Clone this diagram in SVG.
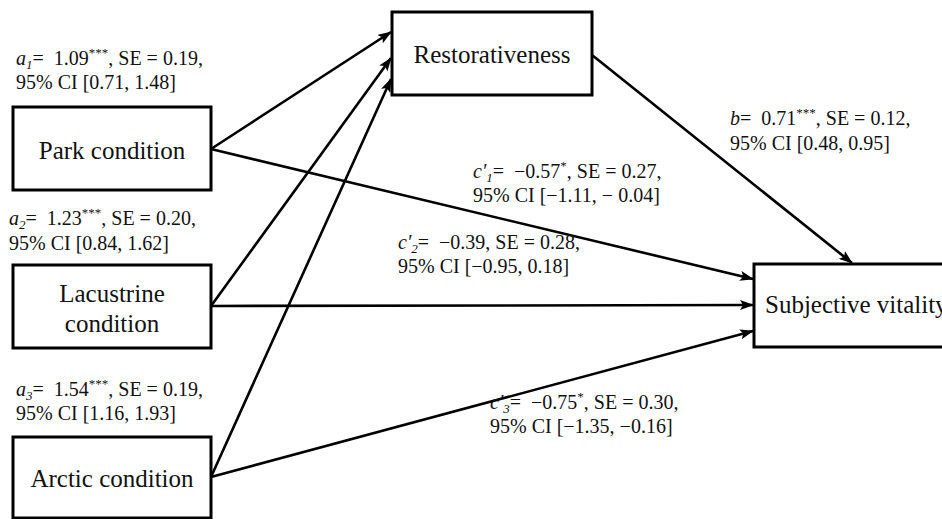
<svg xmlns="http://www.w3.org/2000/svg" width="942" height="519" viewBox="0 0 942 519">
<style>
.box{fill:#fff;stroke:#000;stroke-width:3}
.node{font-family:"Liberation Serif","Times New Roman",serif;font-size:25px;fill:#111;text-anchor:middle}
.lab{font-family:"Liberation Serif","Times New Roman",serif;font-size:20px;fill:#111;white-space:pre}
.it{font-style:italic}
.sm{font-size:13px}
.con{stroke:#000;stroke-width:2.6;fill:none;marker-end:url(#ah)}
</style>
<defs>
<marker id="ah" markerUnits="userSpaceOnUse" viewBox="0 0 14 10" refX="13" refY="5" markerWidth="14" markerHeight="10" orient="auto">
<path d="M0,0 L14,5 L0,10 L3,5 Z" fill="#000"/>
</marker>
</defs>
<rect width="942" height="519" fill="#fff"/>
<g id="connectors">
<line class="con" x1="211" y1="149" x2="391" y2="32"/>
<line class="con" x1="211" y1="306" x2="391" y2="58"/>
<line class="con" x1="211" y1="477" x2="391" y2="79"/>
<line class="con" x1="211" y1="149" x2="753" y2="279"/>
<line class="con" x1="211" y1="306" x2="753" y2="305"/>
<line class="con" x1="211" y1="477" x2="753" y2="331"/>
<line class="con" x1="592" y1="55" x2="852" y2="263"/>
</g>
<g id="park">
<rect class="box" x="13" y="107" width="198" height="83"/>
<text class="node" x="112" y="159">Park condition</text>
</g>
<g id="lacustrine">
<rect class="box" x="13" y="265" width="198" height="83"/>
<text class="node" x="112" y="302">Lacustrine</text>
<text class="node" x="112" y="332">condition</text>
</g>
<g id="arctic">
<rect class="box" x="13" y="437" width="198" height="81"/>
<text class="node" x="112" y="487">Arctic condition</text>
</g>
<g id="restorativeness">
<rect class="box" x="392" y="12" width="200" height="83"/>
<text class="node" x="492" y="63">Restorativeness</text>
</g>
<g id="vitality">
<rect class="box" x="754" y="264" width="200" height="83"/>
<text class="node" x="765" y="313" style="text-anchor:start">Subjective vitality</text>
</g>
<g id="labels">
<text class="lab" x="16" y="65" xml:space="preserve"><tspan class="it">a</tspan><tspan class="it sm" dy="4">1</tspan><tspan dy="-4">=  1.09</tspan><tspan class="sm" dy="-8">***</tspan><tspan dy="8">, SE = 0.19,</tspan></text>
<text class="lab" x="16" y="89">95% CI [0.71, 1.48]</text>
<text class="lab" x="9" y="225" xml:space="preserve"><tspan class="it">a</tspan><tspan class="it sm" dy="4">2</tspan><tspan dy="-4">=  1.23</tspan><tspan class="sm" dy="-8">***</tspan><tspan dy="8">, SE = 0.20,</tspan></text>
<text class="lab" x="9" y="250">95% CI [0.84, 1.62]</text>
<text class="lab" x="16" y="396" xml:space="preserve"><tspan class="it">a</tspan><tspan class="it sm" dy="4">3</tspan><tspan dy="-4">=  1.54</tspan><tspan class="sm" dy="-8">***</tspan><tspan dy="8">, SE = 0.19,</tspan></text>
<text class="lab" x="16" y="420">95% CI [1.16, 1.93]</text>
<text class="lab" x="730" y="125" xml:space="preserve"><tspan class="it">b</tspan>=  0.71<tspan class="sm" dy="-8">***</tspan><tspan dy="8">, SE = 0.12,</tspan></text>
<text class="lab" x="730" y="150">95% CI [0.48, 0.95]</text>
<text class="lab" x="473" y="178" xml:space="preserve"><tspan class="it">c′</tspan><tspan class="it sm" dy="4">1</tspan><tspan dy="-4">=  −0.57</tspan><tspan class="sm" dy="-8">*</tspan><tspan dy="8">, SE = 0.27,</tspan></text>
<text class="lab" x="473" y="202">95% CI [−1.11, − 0.04]</text>
<text class="lab" x="398" y="249" xml:space="preserve"><tspan class="it">c′</tspan><tspan class="it sm" dy="4">2</tspan><tspan dy="-4">=  −0.39, SE = 0.28,</tspan></text>
<text class="lab" x="398" y="273">95% CI [−0.95, 0.18]</text>
<text class="lab" x="490" y="409" xml:space="preserve"><tspan class="it">c′</tspan><tspan class="it sm" dy="4">3</tspan><tspan dy="-4">=  −0.75</tspan><tspan class="sm" dy="-8">*</tspan><tspan dy="8">, SE = 0.30,</tspan></text>
<text class="lab" x="490" y="433">95% CI [−1.35, −0.16]</text>
</g>
</svg>
